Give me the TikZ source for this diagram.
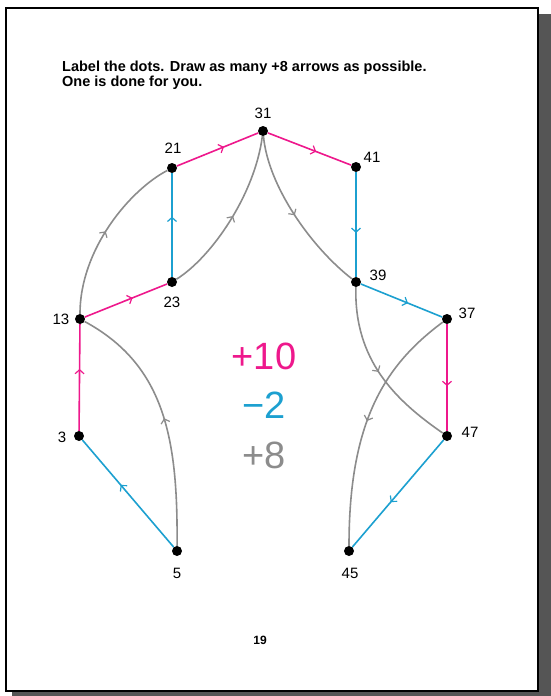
\documentclass[tikz,border=0pt]{standalone}
\usepackage{fontspec}
\setmainfont{Liberation Sans}
\usetikzlibrary{arrows.meta,decorations.markings}

\definecolor{pk}{RGB}{238,24,140}
\definecolor{bl}{RGB}{28,160,208}
\definecolor{gr}{RGB}{140,140,140}
\definecolor{shadowgr}{RGB}{85,85,85}

\tikzset{
  dot/.style={circle,fill=black,inner sep=0pt,minimum size=10pt},
  lbl/.style={font=\fontsize{15}{15}\selectfont,inner sep=0pt},
  midarrow/.style={postaction={decorate},decoration={markings,
     mark=at position #1 with {\arrow{Straight Barb[length=4pt,width=9pt,line width=1.2pt]}}}},
  midarrow/.default=0.55,
  pinkline/.style={pk,line width=1.6pt,midarrow=0.58},
  blueline/.style={bl,line width=1.6pt,midarrow=0.58},
  greyline/.style={gr,line width=1.6pt,midarrow=0.5},
  big/.style={font=\fontsize{38}{38}\selectfont,inner sep=0pt},
  instr/.style={font=\bfseries\fontsize{14.5}{15}\selectfont,inner sep=0pt,anchor=west}
}

\begin{document}
\begin{tikzpicture}[x=1pt,y=-1pt]
\useasboundingbox (0,0) rectangle (551,696);
% page with shadow
\fill[shadowgr] (12,14) rectangle (551,696);
\draw[fill=white,line width=1.5pt] (6,8) rectangle (538,691);

% instructions
\node[instr] (t1) at (62,68) {Label the dots. Draw as many +8 arrows as possible.};
\node[instr] (t2) at (62,83) {One is done for you.};

% dots
\node[dot] (n31) at (263,131) {};
\node[dot] (n21) at (172,168) {};
\node[dot] (n41) at (356,167) {};
\node[dot] (n23) at (172,282) {};
\node[dot] (n39) at (356,282) {};
\node[dot] (n13) at (80,319) {};
\node[dot] (n37) at (447,319) {};
\node[dot] (n3)  at (79,436) {};
\node[dot] (n47) at (447,436) {};
\node[dot] (n5)  at (177,551) {};
\node[dot] (n45) at (349,551) {};

% labels
\node[lbl] (l31) at (263,113) {31};
\node[lbl] (l21) at (173,148) {21};
\node[lbl] (l41) at (372,157) {41};
\node[lbl] (l23) at (172,302) {23};
\node[lbl] (l39) at (378,275) {39};
\node[lbl] (l13) at (61,319) {13};
\node[lbl] (l37) at (467,313) {37};
\node[lbl] (l3)  at (62,437) {3};
\node[lbl] (l47) at (470,432) {47};
\node[lbl] (l5)  at (177,573) {5};
\node[lbl] (l45) at (350,573) {45};

% +10 edges
\draw[pinkline] (n21) -- (n31);
\draw[pinkline] (n31) -- (n41);
\draw[pinkline] (n13) -- (n23);
\draw[pinkline] (n3) -- (n13);
\draw[pinkline] (n37) -- (n47);

% -2 edges
\draw[blueline] (n23) -- (n21);
\draw[blueline] (n41) -- (n39);
\draw[blueline] (n39) -- (n37);
\draw[blueline] (n5) -- (n3);
\draw[blueline] (n47) -- (n45);

% +8 edges
\draw[greyline] (n13) .. controls +(0,-70) and +(-42,22) .. (n21);
\draw[greyline] (n23) .. controls +(40,-25) and +(-8,63) .. (n31);
\draw[greyline] (n31) .. controls +(5,55) and +(-45,-35) .. (n39);
\draw[greyline] (n5) .. controls +(1,-112) and +(85,46) .. (n13);
\draw[greyline] (n39) .. controls +(-2,78) and +(-52,-36) .. (n47);
\draw[greyline] (n37) .. controls +(-62,46) and +(0,-130) .. (n45);

% legend
\node[big,pk] (p10) at (264,356) {+10};
\node[big,bl] (m2) at (264,405) {−2};
\node[big,gr] (p8) at (264,455) {+8};

% page number
\node[font=\bfseries\fontsize{12}{12}\selectfont,inner sep=0pt] (pg) at (260,640) {19};
\end{tikzpicture}
\end{document}
